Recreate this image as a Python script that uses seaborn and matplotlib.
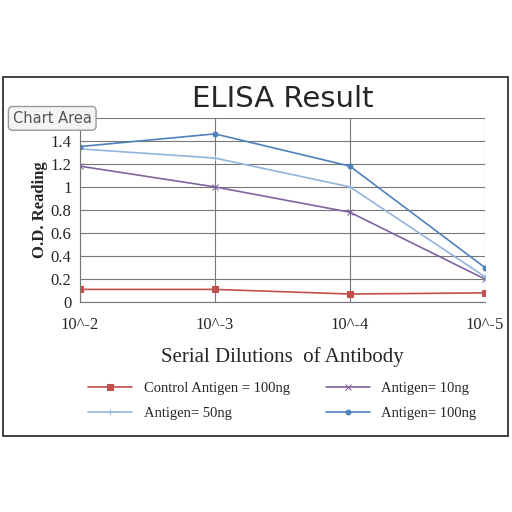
import matplotlib.pyplot as plt
import seaborn as sns
import pandas as pd
from matplotlib.patches import Rectangle

sns.set_style("white")
plt.rcParams['font.family'] = ['Liberation Serif', 'DejaVu Serif']

dilutions = ['10^-2', '10^-3', '10^-4', '10^-5']
control_100 = [0.11, 0.11, 0.07, 0.08]
antigen_10 = [1.18, 1.00, 0.78, 0.20]
antigen_50 = [1.33, 1.25, 1.00, 0.22]
antigen_100 = [1.35, 1.46, 1.18, 0.30]

series = [
    ('Control Antigen = 100ng', control_100, '#c0504d', 's', 5),
    ('Antigen= 10ng', antigen_10, '#8064a2', 'x', 5),
    ('Antigen= 50ng', antigen_50, '#93b4dc', '+', 5),
    ('Antigen= 100ng', antigen_100, '#4f81bd', 'o', 3.5),
]

fig = plt.figure(figsize=(5.12, 5.12), dpi=100)
fig.patches.append(Rectangle((0.006, 0.148), 0.986, 0.702, transform=fig.transFigure,
                             fill=False, edgecolor='#222222', lw=1.2))
ax = fig.add_axes([0.156, 0.41, 0.791, 0.36])

x = list(range(len(dilutions)))
for name, vals, color, marker, ms in series:
    df = pd.DataFrame({'x': x, 'y': vals})
    sns.lineplot(data=df, x='x', y='y', ax=ax, color=color, marker=marker,
                 markersize=ms, markeredgecolor=color, lw=1.2, label=name)

ax.set_xlim(0, 3)
ax.set_ylim(0, 1.6)
ax.set_xticks(x)
ax.set_xticklabels(dilutions, fontsize=12)
ax.set_yticks([0, 0.2, 0.4, 0.6, 0.8, 1.0, 1.2, 1.4, 1.6])
ax.set_yticklabels(['0', '0.2', '0.4', '0.6', '0.8', '1', '1.2', '1.4', ''], fontsize=12)
ax.grid(True, color='#777777', lw=0.8)
for s in ['top', 'right']:
    ax.spines[s].set_visible(False)
for s in ['left', 'bottom']:
    ax.spines[s].set_color('#777777')
ax.tick_params(axis='y', length=4, color='#777777', pad=2)
ax.tick_params(axis='x', length=4, color='#777777', pad=7)
ax.set_xlabel('Serial Dilutions  of Antibody', fontsize=15, labelpad=10)
ax.set_ylabel('O.D. Reading', fontsize=12, fontweight='bold', labelpad=2)
ax.set_title('ELISA Result', fontsize=21, family='DejaVu Sans', pad=8)

h, l = ax.get_legend_handles_labels()
order = [0, 2, 1, 3]
ax.legend([h[i] for i in order], [l[i] for i in order], loc='upper center',
          bbox_to_anchor=(0.5, -0.36), ncol=2, frameon=False,
          fontsize=10.5, handlelength=3, columnspacing=2.5, labelspacing=0.8)

fig.text(0.025, 0.76, 'Chart Area', fontsize=10.5, family='DejaVu Sans', color='#555555',
         bbox=dict(boxstyle='round,pad=0.3', fc='#f4f4f4', ec='#999999'))

fig.savefig('out.png', dpi=100)
